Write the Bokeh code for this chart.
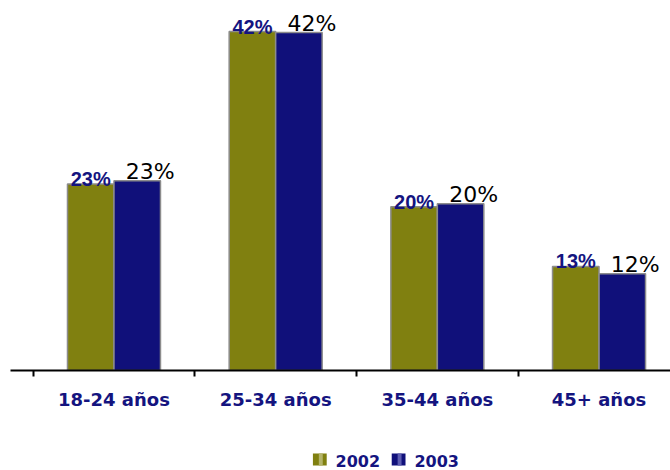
from bokeh.plotting import figure
from bokeh.models import ColumnDataSource, Range1d, FixedTicker
from bokeh.layouts import column
from bokeh.core.properties import value
from bokeh.embed import file_html
from bokeh.resources import INLINE

categories = ["18-24 años", "25-34 años", "35-44 años", "45+ años"]
series_names = ["2002", "2003"]
values_2002 = [23.1, 42.0, 20.3, 12.9]
values_2003 = [23.5, 41.9, 20.65, 12.0]
labels_2002 = ["23%", "42%", "20%", "13%"]
labels_2003 = ["23%", "42%", "20%", "12%"]

color_2002 = "#808010"
color_2003 = "#10107A"
navy_text = "#14147F"

n = len(categories)
centers = list(range(n))
bar_w = 0.2876
off = bar_w / 2

src02 = ColumnDataSource(dict(x=[c - off for c in centers], top=values_2002, lab=labels_2002))
src03 = ColumnDataSource(dict(x=[c + off for c in centers], top=values_2003, lab=labels_2003))

p = figure(width=670, height=430, output_backend="svg", toolbar_location=None,
           x_range=Range1d(-0.640, 3.442), y_range=Range1d(0, 45.85),
           y_axis_location=None, min_border_left=10, min_border_right=0,
           min_border_top=0, min_border_bottom=60)
p.outline_line_color = None
p.xgrid.visible = False
p.ygrid.visible = False
p.background_fill_color = "white"
p.border_fill_color = "white"

p.vbar(x="x", top="top", width=bar_w, source=src02, fill_color=color_2002,
       line_color="#8C8C8C", line_width=1.5)
p.vbar(x="x", top="top", width=bar_w, source=src03, fill_color=color_2003,
       line_color="#8C8C8C", line_width=1.5)

p.text(x="x", y="top", text="lab", source=src02, text_align="center",
       text_baseline="alphabetic", y_offset=-5, text_color=navy_text,
       text_font=value("Liberation Sans"), text_font_style="bold", text_font_size="20px")
p.text(x="x", y="top", text="lab", source=src03, text_align="center",
       text_baseline="alphabetic", x_offset=13, y_offset=-9, text_color="black",
       text_font=value("DejaVu Sans"), text_font_size="22px")

ax = p.xaxis[0]
ax.ticker = FixedTicker(ticks=centers, minor_ticks=[c + 0.5 for c in [-1] + centers])
ax.major_label_overrides = {c: categories[i] for i, c in enumerate(centers)}
ax.major_tick_out = 0
ax.major_tick_in = 0
ax.minor_tick_out = 6
ax.minor_tick_in = 0
ax.minor_tick_line_color = "black"
ax.minor_tick_line_width = 2
ax.axis_line_color = "black"
ax.axis_line_width = 2
ax.major_label_standoff = 12
ax.major_label_text_font = "DejaVu Sans"
ax.major_label_text_font_style = "bold"
ax.major_label_text_font_size = "18px"
ax.major_label_text_color = navy_text

# Legend strip (own small figure, pixel coordinates)
lg = figure(width=670, height=40, output_backend="svg", toolbar_location=None,
            x_range=Range1d(0, 670), y_range=Range1d(0, 40),
            x_axis_location=None, y_axis_location=None,
            min_border=0)
lg.outline_line_color = None
lg.xgrid.visible = False
lg.ygrid.visible = False

swatch_x = [314, 394]
text_x = [330, 410]
sw_src = ColumnDataSource(dict(x=swatch_x, y=[11, 11], c=[color_2002, color_2003]))
lg.rect(x="x", y="y", width=14, height=12, source=sw_src, fill_color="c", line_color=None)
# lighter middle stripe for a shaded swatch look
hl_src = ColumnDataSource(dict(x=[sx + 1 for sx in swatch_x], y=[11, 11],
                               c=["#B4B46A", "#5C5CB0"]))
lg.rect(x="x", y="y", width=4, height=12, source=hl_src, fill_color="c", line_color=None)
tx_src = ColumnDataSource(dict(x=text_x, y=[10, 10], t=series_names))
lg.text(x="x", y="y", text="t", source=tx_src, text_align="left",
        text_baseline="middle", text_color=navy_text,
        text_font=value("DejaVu Sans"), text_font_style="bold", text_font_size="16px")

layout = column(p, lg, spacing=0)
open("out.html", "w").write(file_html(layout, INLINE))
